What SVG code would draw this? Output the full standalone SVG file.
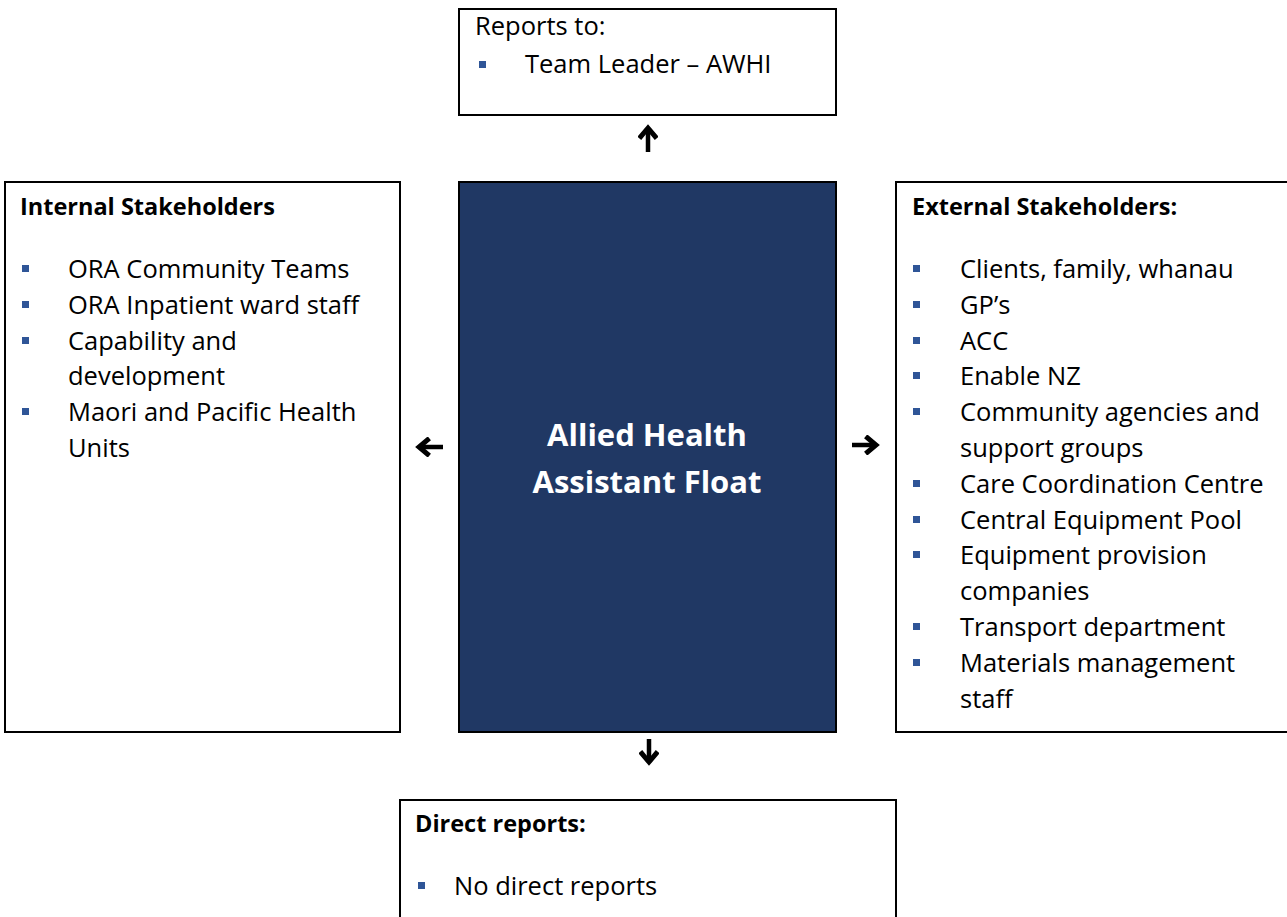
<svg xmlns="http://www.w3.org/2000/svg" width="1287" height="917" viewBox="0 0 1287 917">
<style>
.box{fill:#fff;stroke:#000;stroke-width:2}
.t{font-family:"Open Sans","Liberation Sans",sans-serif;font-size:25.5px;fill:#000}
.h{font-family:"Open Sans","Liberation Sans",sans-serif;font-size:23.5px;font-weight:bold;fill:#000}
.c{font-family:"Open Sans","Liberation Sans",sans-serif;font-size:31px;font-weight:bold;fill:#fff}
.b{fill:#2f5597}
.arr{stroke:#000;stroke-width:4.5;fill:none;marker-end:url(#ah)}
</style>
<defs>
<marker id="ah" viewBox="0 0 10 10" refX="6.5" refY="5" markerWidth="4.6" markerHeight="4.6" orient="auto">
<path d="M1.5,0.8 L6.5,5 L1.5,9.2" fill="none" stroke="#000" stroke-width="2.4"/>
</marker>
</defs>
<rect width="1287" height="917" fill="#fff"/>
<g id="reports-to">
<rect class="box" x="459" y="9" width="377" height="106"/>
<text class="t" x="475" y="35">Reports to:</text>
<rect class="b" x="479" y="61" width="7" height="7"/>
<text class="t" x="525" y="73">Team Leader – AWHI</text>
</g>
<g id="internal">
<rect class="box" x="5" y="182" width="395" height="550"/>
<text class="h" x="20" y="215">Internal Stakeholders</text>
<rect class="b" x="22" y="265" width="7" height="7"/>
<text class="t" x="68" y="278">ORA Community Teams</text>
<rect class="b" x="22" y="301" width="7" height="7"/>
<text class="t" x="68" y="314">ORA Inpatient ward staff</text>
<rect class="b" x="22" y="337" width="7" height="7"/>
<text class="t" x="68" y="350">Capability and</text>
<text class="t" x="68" y="385">development</text>
<rect class="b" x="22" y="408" width="7" height="7"/>
<text class="t" x="68" y="421">Maori and Pacific Health</text>
<text class="t" x="68" y="457">Units</text>
</g>
<g id="role">
<rect x="459" y="182" width="377" height="550" fill="#203864" stroke="#000" stroke-width="2"/>
<text class="c" x="647" y="446" text-anchor="middle">Allied Health</text>
<text class="c" x="647" y="493" text-anchor="middle">Assistant Float</text>
</g>
<g id="external">
<rect class="box" x="896" y="182" width="400" height="550"/>
<text class="h" x="912" y="215">External Stakeholders:</text>
<rect class="b" x="913" y="265" width="7" height="7"/>
<text class="t" x="960" y="278">Clients, family, whanau</text>
<rect class="b" x="913" y="301" width="7" height="7"/>
<text class="t" x="960" y="314">GP’s</text>
<rect class="b" x="913" y="337" width="7" height="7"/>
<text class="t" x="960" y="350">ACC</text>
<rect class="b" x="913" y="372" width="7" height="7"/>
<text class="t" x="960" y="385">Enable NZ</text>
<rect class="b" x="913" y="408" width="7" height="7"/>
<text class="t" x="960" y="421">Community agencies and</text>
<text class="t" x="960" y="457">support groups</text>
<rect class="b" x="913" y="480" width="7" height="7"/>
<text class="t" x="960" y="493">Care Coordination Centre</text>
<rect class="b" x="913" y="516" width="7" height="7"/>
<text class="t" x="960" y="529">Central Equipment Pool</text>
<rect class="b" x="913" y="551" width="7" height="7"/>
<text class="t" x="960" y="564">Equipment provision</text>
<text class="t" x="960" y="600">companies</text>
<rect class="b" x="913" y="623" width="7" height="7"/>
<text class="t" x="960" y="636">Transport department</text>
<rect class="b" x="913" y="659" width="7" height="7"/>
<text class="t" x="960" y="672">Materials management</text>
<text class="t" x="960" y="708">staff</text>
</g>
<g id="direct-reports">
<rect class="box" x="400" y="800" width="496" height="130"/>
<text class="h" x="415" y="832">Direct reports:</text>
<rect class="b" x="418" y="882" width="7" height="7"/>
<text class="t" x="454" y="895">No direct reports</text>
</g>
<g id="connectors">
<line class="arr" x1="648" y1="152" x2="648" y2="128"/>
<line class="arr" x1="443" y1="447" x2="419" y2="447"/>
<line class="arr" x1="852" y1="445" x2="876" y2="445"/>
<line class="arr" x1="649" y1="739" x2="649" y2="762"/>
</g>
</svg>
